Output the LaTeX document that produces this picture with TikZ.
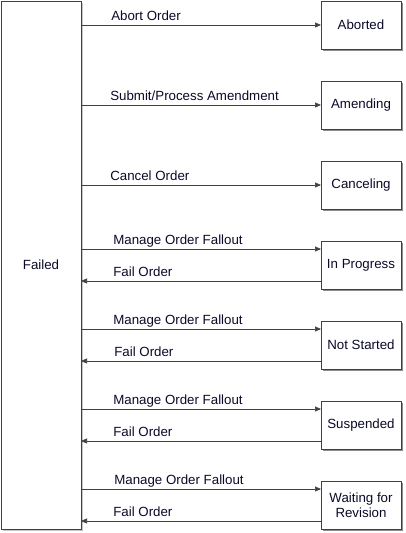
\documentclass[tikz,border=0pt]{standalone}
\usepackage{fontspec}
\setmainfont{Liberation Sans}
\usetikzlibrary{positioning}
\usetikzlibrary{arrows.meta}
\usetikzlibrary{shadows}
\definecolor{linegray}{RGB}{64,64,64}
\definecolor{textnavy}{RGB}{10,10,40}
\tikzset{node distance=32pt,
    font=\fontsize{13.3}{15}\selectfont,
    every node/.style={
        text=textnavy},
    statebox/.style={
        draw=linegray,
        thick,
        fill=white,
        minimum width=80pt,
        minimum height=48pt,
        align=center,
        outer sep=0pt,
        drop shadow={shadow xshift=2pt,shadow yshift=-2pt,
            fill=black!45,opacity=1}},
    bigbox/.style={
        statebox,
        minimum height=528pt,
        drop shadow={shadow xshift=2pt,shadow yshift=-2pt,
            fill=black!22,opacity=1}},
    lbl/.style={
        anchor=base west,
        inner sep=0pt,
        xshift=30pt,
        yshift=5pt},
    every edge/.style={
        draw=linegray,
        semithick,
        -{Triangle[length=6pt,width=5pt]}}}

\begin{document}
\begin{tikzpicture}[x=1pt,y=-1pt]
        \useasboundingbox (0,0) rectangle (405,533);

        \node[bigbox] (failed) at (41,265) {Failed};
        \node[statebox] (aborted) at (361,25) {Aborted};
        \node[statebox,below=of aborted] (amending) {Amending};
        \node[statebox,below=of amending] (canceling) {Canceling};
        \node[statebox,below=of canceling] (inprog) {In Progress};
        \node[statebox,below=of inprog] (notstarted) {Not Started};
        \node[statebox,below=of notstarted] (suspended) {Suspended};
        \node[statebox,below=of suspended] (waiting) {Waiting for\\Revision};

        % in and out points of the two-way boxes
        \coordinate (inprog-in) at ([yshift=16pt]inprog.west);
        \coordinate (inprog-out) at ([yshift=-16pt]inprog.west);
        \coordinate (notstarted-in) at ([yshift=16pt]notstarted.west);
        \coordinate (notstarted-out) at ([yshift=-16pt]notstarted.west);
        \coordinate (suspended-in) at ([yshift=16pt]suspended.west);
        \coordinate (suspended-out) at ([yshift=-16pt]suspended.west);
        \coordinate (waiting-in) at ([yshift=16pt]waiting.west);
        \coordinate (waiting-out) at ([yshift=-16pt]waiting.west);

        \draw (failed.east |- aborted.west) edge node[lbl,pos=0] {Abort Order} (aborted.west);
        \draw (failed.east |- amending.west) edge node[lbl,pos=0,xshift=-1pt] {Submit/Process Amendment} (amending.west);
        \draw (failed.east |- canceling.west) edge node[lbl,pos=0,xshift=-1pt] {Cancel Order} (canceling.west);

        \draw (failed.east |- inprog-in) edge node[lbl,pos=0,xshift=2pt] {Manage Order Fallout} (inprog-in);
        \draw (inprog-out) edge node[lbl,pos=1,xshift=2pt] {Fail Order} (failed.east |- inprog-out);
        \draw (failed.east |- notstarted-in) edge node[lbl,pos=0,xshift=2pt] {Manage Order Fallout} (notstarted-in);
        \draw (notstarted-out) edge node[lbl,pos=1,xshift=3pt] {Fail Order} (failed.east |- notstarted-out);
        \draw (failed.east |- suspended-in) edge node[lbl,pos=0,xshift=2pt] {Manage Order Fallout} (suspended-in);
        \draw (suspended-out) edge node[lbl,pos=1,xshift=2pt] {Fail Order} (failed.east |- suspended-out);
        \draw (failed.east |- waiting-in) edge node[lbl,pos=0,xshift=3pt] {Manage Order Fallout} (waiting-in);
        \draw (waiting-out) edge node[lbl,pos=1,xshift=2pt] {Fail Order} (failed.east |- waiting-out);
    \end{tikzpicture}
\end{document}
